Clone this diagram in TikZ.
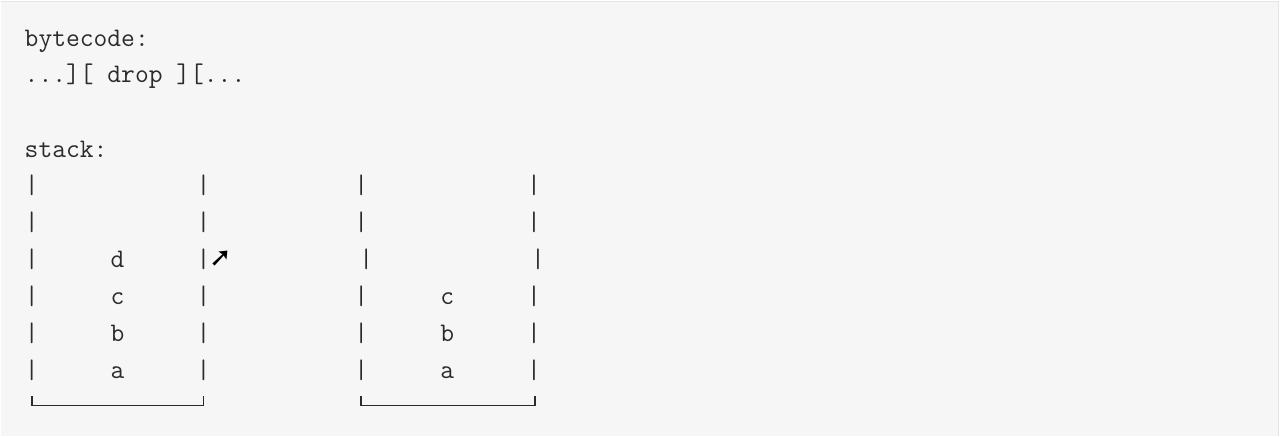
\documentclass[tikz,border=0pt]{standalone}
\usepackage{fontspec}
\newfontfamily\symfont{DejaVu Sans}
\definecolor{bgc}{HTML}{F6F6F6}
\definecolor{edgec}{HTML}{E4E4E4}
\definecolor{inkc}{HTML}{2B2B2B}
\begin{document}
\begin{tikzpicture}[x=1pt,y=-1pt,
  code/.style={inner sep=0pt,outer sep=0pt,text=inkc,font=\ttfamily\fontsize{26.8}{30}\selectfont},
  ltext/.style={code,anchor=base west},
  ctext/.style={code,anchor=base},
  bracket/.style={draw=inkc,line width=1.7pt,line cap=butt,line join=miter}]
\fill[bgc] (0,0) rectangle (1280,436);
\draw[edgec,line width=1.5pt] (0,0.75) -- (1280,0.75);
\draw[edgec,line width=1pt] (1279.5,0) -- (1279.5,436);
\useasboundingbox (0,0) rectangle (1280,436);
% header lines
\node[ltext] (bc) at (24,46) {bytecode:};
\node[ltext] (drop) at (24,82) {...][ drop ][...};
\node[ltext] (st) at (24,157) {stack:};
% first stack bars
\foreach \i/\y in {1/193,2/230,3/267,4/304,5/341,6/378}{
  \node[ctext] (la\i) at (31,\y) {|};
  \node[ctext] (ra\i) at (203,\y) {|};
}
% second stack bars
\foreach \i/\y in {1/193,2/230,4/304,5/341,6/378}{
  \node[ctext] (lb\i) at (361,\y) {|};
  \node[ctext] (rb\i) at (534,\y) {|};
}
\node[ctext] (lb3) at (366,267) {|};
\node[ctext] (rb3) at (538,267) {|};
% contents
\node[ctext] (d1) at (117,267) {d};
\node[ctext] (c1) at (117,304) {c};
\node[ctext] (b1) at (117,341) {b};
\node[ctext] (a1) at (117,378) {a};
\node[ctext] (c2) at (447,304) {c};
\node[ctext] (b2) at (447,341) {b};
\node[ctext] (a2) at (447,378) {a};
% arrow
\node[inner sep=0pt,text=black,font=\symfont\fontsize{27}{30}\selectfont] (arr) at (220,259) {➚};
% bottoms
\draw[bracket] (31,396) -- (31,405.5) -- (203,405.5) -- (203,396);
\draw[bracket] (361,396) -- (361,405.5) -- (535,405.5) -- (535,396);
\end{tikzpicture}
\end{document}
